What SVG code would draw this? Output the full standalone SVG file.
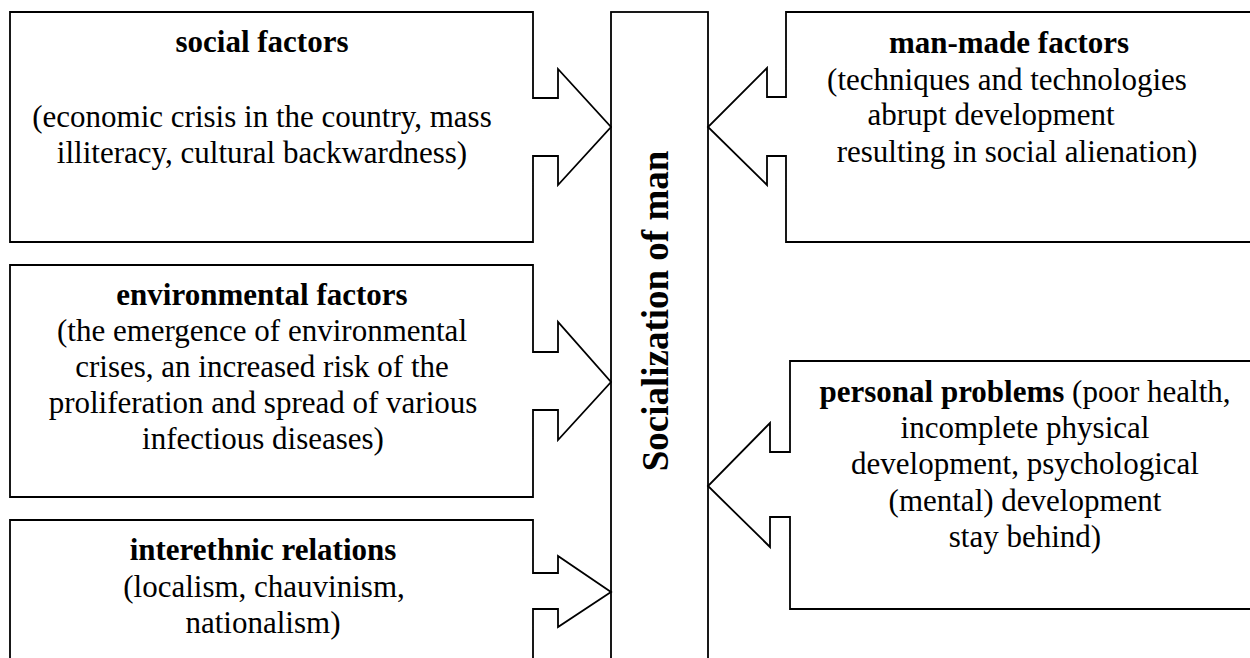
<svg xmlns="http://www.w3.org/2000/svg" width="1250" height="658" viewBox="0 0 1250 658">
<style>
.shape{fill:#fff;stroke:#000;stroke-width:1.8;stroke-linejoin:miter}
.t{font-family:"Liberation Serif","Times New Roman",serif;font-size:31px;fill:#000;text-anchor:middle}
.b{font-weight:bold}
.title{font-size:37px;font-weight:bold}
</style>
<rect width="1250" height="658" fill="#fff"/>
<g id="center">
<rect class="shape" x="611" y="12" width="97" height="660"/>
<text class="t title" transform="translate(668,311) rotate(-90)">Socialization of man</text>
</g>
<g id="social" class="t">
<path class="shape" d="M10,12 H533 V98 H558 V69 L611,127 L558,185 V156 H533 V242 H10 Z"/>
<text class="b" x="262" y="52">social factors</text>
<text x="262" y="127">(economic crisis in the country, mass</text>
<text x="262" y="163">illiteracy, cultural backwardness)</text>
</g>
<g id="environmental" class="t">
<path class="shape" d="M10,265 H533 V352 H558 V322 L611,382 L558,440 V410 H533 V497 H10 Z"/>
<text class="b" x="262" y="305">environmental factors</text>
<text x="262" y="341">(the emergence of environmental</text>
<text x="262" y="377">crises, an increased risk of the</text>
<text x="263" y="413">proliferation and spread of various</text>
<text x="263" y="449">infectious diseases)</text>
</g>
<g id="interethnic" class="t">
<path class="shape" d="M10,672 V520 H533 V573 H558 V556 L611,592 L558,627 V609 H533 V672"/>
<text class="b" x="263" y="560">interethnic relations</text>
<text x="264" y="597">(localism, chauvinism,</text>
<text x="263" y="633">nationalism)</text>
</g>
<g id="manmade" class="t">
<path class="shape" d="M1262,12 H786 V97 H767 V68 L708,127 L767,185 V156 H786 V242 H1262"/>
<text class="b" x="1009" y="53">man-made factors</text>
<text x="1007" y="90">(techniques and technologies</text>
<text x="991" y="125">abrupt development</text>
<text x="1017" y="162">resulting in social alienation)</text>
</g>
<g id="personal" class="t">
<path class="shape" d="M1262,361 H790 V452 H770 V423 L708,486 L770,547 V517 H790 V609 H1262"/>
<text x="1025" y="402"><tspan class="b">personal problems</tspan> (poor health,</text>
<text x="1025" y="438">incomplete physical</text>
<text x="1025" y="474">development, psychological</text>
<text x="1025" y="511">(mental) development</text>
<text x="1025" y="547">stay behind)</text>
</g>
<g id="connectors"></g>
</svg>
